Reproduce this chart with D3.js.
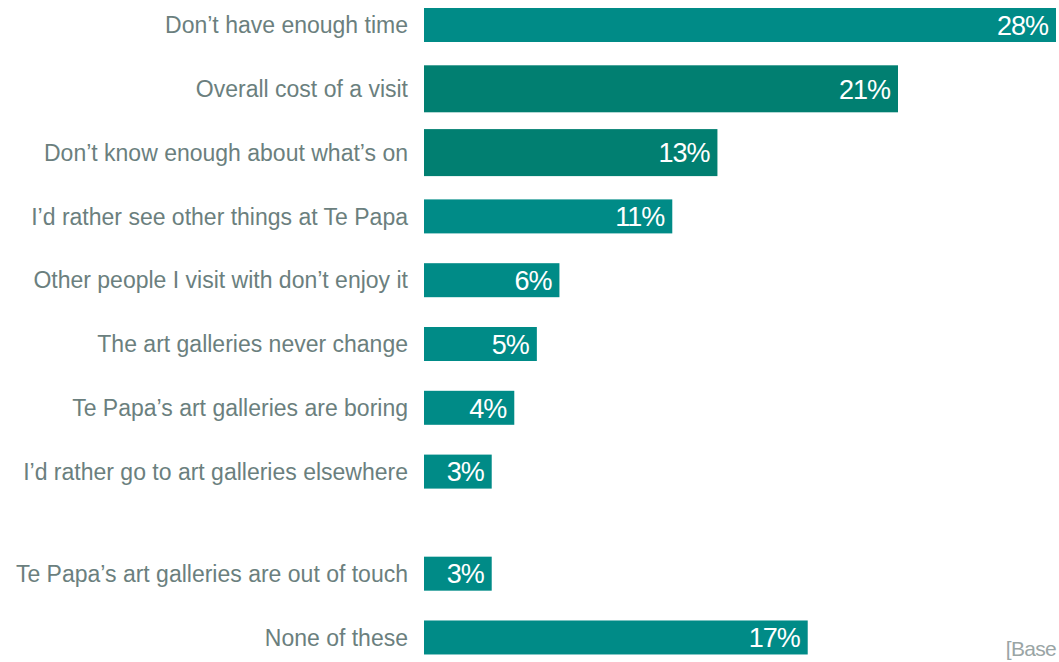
<!DOCTYPE html>
<html>
<head>
<meta charset="utf-8">
<script src="https://cdn.jsdelivr.net/npm/d3@7/dist/d3.min.js"></script>
<style>
  html, body { margin: 0; padding: 0; background: #fff; overflow: hidden; }
  svg { display: block; }
</style>
</head>
<body>
<svg id="chart" width="1059" height="662"></svg>
<script>
// Reasons for not visiting the art galleries (% of respondents)
const categories = [
  "Don\u2019t have enough time",
  "Overall cost of a visit",
  "Don\u2019t know enough about what\u2019s on",
  "I\u2019d rather see other things at Te Papa",
  "Other people I visit with don\u2019t enjoy it",
  "The art galleries never change",
  "Te Papa\u2019s art galleries are boring",
  "I\u2019d rather go to art galleries elsewhere",
  "Te Papa\u2019s art galleries are out of touch",
  "None of these"
];
const values = [28, 21, 13, 11, 6, 5, 4, 3, 3, 17];
const highlighted = [false, true, true, false, false, false, false, false, false, false];
const groups = [0, 0, 0, 0, 0, 0, 0, 0, 1, 1];
const baseNote = "[Base";

const svg = d3.select("#chart");
const colorMain = "#008b87";
const colorDark = "#017f71";
const labelColor = "#6b7f7e";
const groupGap = 0.6;

const x = d3.scaleLinear().domain([0, 28]).range([424, 1056]);
// row slot including a gap before the second group
const slot = (i) => i + groups[i] * groupGap;
const y = d3.scaleLinear().domain([0, 9 + groupGap]).range([25, 25 + 63.8 * (9 + groupGap)]);

const rows = categories.map((c, i) => ({ c, v: values[i], hi: highlighted[i], i }));

const g = svg.append("g");

g.selectAll("rect.bar").data(rows).join("rect")
  .attr("class", "bar")
  .attr("x", x(0))
  .attr("y", d => y(slot(d.i)) - (d.hi ? 23.5 : 17))
  .attr("width", d => x(d.v) - x(0))
  .attr("height", d => d.hi ? 47 : 34)
  .attr("fill", d => d.hi ? colorDark : colorMain);

g.selectAll("text.val").data(rows).join("text")
  .attr("class", "val")
  .attr("x", d => x(d.v) - 8)
  .attr("y", d => y(slot(d.i)))
  .attr("dy", "0.36em")
  .attr("text-anchor", "end")
  .attr("fill", "#ffffff")
  .style("font-family", "'Liberation Sans', Arial, sans-serif")
  .style("font-size", "27px")
  .style("letter-spacing", "-1px")
  .text(d => d.v + "%");

g.selectAll("text.cat").data(rows).join("text")
  .attr("class", "cat")
  .attr("x", 408)
  .attr("y", d => y(slot(d.i)))
  .attr("dy", "0.36em")
  .attr("text-anchor", "end")
  .attr("fill", labelColor)
  .style("font-family", "'Liberation Sans', Arial, sans-serif")
  .style("font-size", "23px")
  .style("letter-spacing", "0px")
  .text(d => d.c);

svg.append("text")
  .attr("x", 1056)
  .attr("y", 656)
  .attr("text-anchor", "end")
  .attr("fill", "#9aa5a5")
  .style("font-family", "'Liberation Sans', Arial, sans-serif")
  .style("font-size", "21px")
  .style("letter-spacing", "-0.7px")
  .text(baseNote);
</script>
</body>
</html>
